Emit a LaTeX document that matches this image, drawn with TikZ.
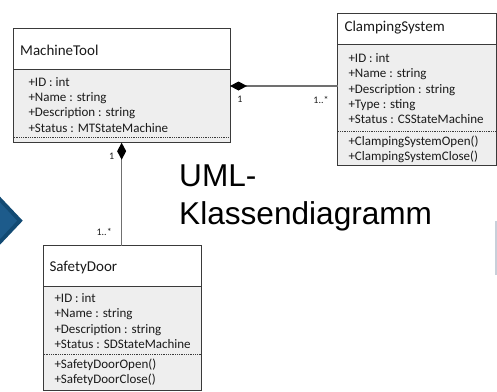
\documentclass[tikz,border=0pt]{standalone}
\usepackage{fontspec}
\newfontfamily\boxfont{Carlito}
\newfontfamily\titlefont{Liberation Sans}
\usetikzlibrary{arrows.meta}
\definecolor{edgecol}{HTML}{3A3A3A}
\definecolor{bodycol}{HTML}{EEEEEE}
\definecolor{linkcol}{HTML}{707070}
\definecolor{txtcol}{HTML}{1A1A1A}
\definecolor{navyout}{HTML}{124A73}
\definecolor{navyin}{HTML}{1D5B8B}
\definecolor{paleedge}{HTML}{C8D0DA}
\begin{document}
\begin{tikzpicture}[x=1pt,y=-1pt,
  part/.style={draw=edgecol,line width=0.9pt,anchor=north west,inner sep=0pt,outer sep=0pt},
  headpart/.style={part,fill=white},
  bodypart/.style={part,fill=bodycol},
  headtext/.style={anchor=base west,inner sep=0pt,text=txtcol,font=\boxfont\fontsize{15}{18}\selectfont},
  membertext/.style={anchor=base west,inner sep=0pt,text=txtcol,font=\boxfont\fontsize{13}{15}\selectfont},
  multtext/.style={anchor=center,inner sep=0pt,text=txtcol,font=\boxfont\fontsize{10}{12}\selectfont},
  sepline/.style={draw=edgecol,line width=0.7pt,dash pattern=on 0.9pt off 0.9pt},
  composition/.style={draw=linkcol,line width=1.3pt,{Diamond[length=17pt,width=9pt,color=black]}-},
  bigtext/.style={anchor=base west,inner sep=0pt,text=black,font=\titlefont\fontsize{31.6}{36}\selectfont}
]
\useasboundingbox (0,0) rectangle (497,391);

% navy arrow at the left margin
\fill[navyout] (0,196.7) -- (22.7,220.7) -- (0,244.7) -- cycle;
\fill[navyin] (0,202.4) -- (17,220.7) -- (0,239) -- cycle;

% pale rule at the right margin
\coordinate (ruletop) at (496,220.7);
\coordinate (rulebot) at (496,275);
\draw[paleedge,line width=1.5pt] (ruletop) -- (rulebot);

% MachineTool
\node[headpart,minimum width=216.7pt,minimum height=41pt] (mthead) at (13.3,28.3) {};
\node[bodypart,minimum width=216.7pt,minimum height=73.4pt] (mtbody) at (13.3,69.3) {};
\node[headtext] (mtname) at (20,55) {MachineTool};
\node[membertext] (mta1) at (28.3,86.3) {+ID : int};
\node[membertext] (mta2) at (28.3,101.6) {+Name : string};
\node[membertext] (mta3) at (28.3,116.9) {+Description : string};
\node[membertext] (mta4) at (28.3,132.2) {+Status : MTStateMachine};
\draw[sepline] (13.8,137.3) -- (229.5,137.3);

% ClampingSystem
\node[headpart,minimum width=158.6pt,minimum height=31pt] (cshead) at (337.7,13.3) {};
\node[bodypart,minimum width=158.6pt,minimum height=121.4pt] (csbody) at (337.7,44.3) {};
\node[headtext] (csname) at (344.3,31.7) {ClampingSystem};
\node[membertext] (csa1) at (348.3,62.6) {+ID : int};
\node[membertext] (csa2) at (348.3,77.8) {+Name : string};
\node[membertext] (csa3) at (348.3,93) {+Description : string};
\node[membertext] (csa4) at (348.3,108.2) {+Type : sting};
\node[membertext] (csa5) at (348.3,123.4) {+Status : CSStateMachine};
\draw[sepline] (338.2,131) -- (495.8,131);
\node[membertext] (csm1) at (348.3,145) {+ClampingSystemOpen()};
\node[membertext] (csm2) at (348.3,160.3) {+ClampingSystemClose()};

% SafetyDoor
\node[headpart,minimum width=157.7pt,minimum height=41pt] (sdhead) at (43.3,245.7) {};
\node[bodypart,minimum width=157.7pt,minimum height=103.3pt] (sdbody) at (43.3,286.7) {};
\node[headtext] (sdname) at (49.3,271.7) {SafetyDoor};
\node[membertext] (sda1) at (54.3,302.3) {+ID : int};
\node[membertext] (sda2) at (54.3,317.8) {+Name : string};
\node[membertext] (sda3) at (54.3,333.3) {+Description : string};
\node[membertext] (sda4) at (54.3,348.8) {+Status : SDStateMachine};
\draw[sepline] (43.8,354) -- (200.5,354);
\node[membertext] (sdm1) at (54.3,368.3) {+SafetyDoorOpen()};
\node[membertext] (sdm2) at (54.3,383.8) {+SafetyDoorClose()};

% compositions
\coordinate (mtport) at (230,86);
\coordinate (csport) at (csbody.west |- mtport);
\draw[composition] (mtport) -- (csport);
\draw[composition] (mtbody.south) -- (mtbody.south |- sdhead.north);

\node[multtext] (m1) at (240,99.7) {1};
\node[multtext] (m2) at (321,99.7) {1..*};
\node[multtext] (m3) at (111.7,156.7) {1};
\node[multtext] (m4) at (104.2,231.5) {1..*};

% title text
\node[bigtext] (umlA) at (179,186.2) {UML-};
\node[bigtext] (umlB) at (179,224) {Klassendiagramm};
\end{tikzpicture}
\end{document}
